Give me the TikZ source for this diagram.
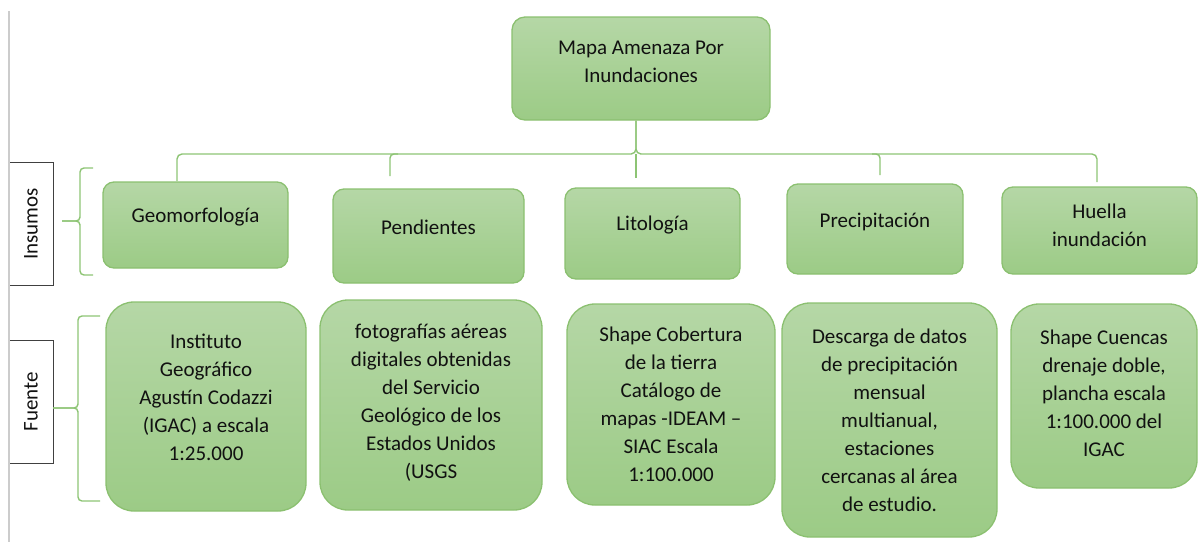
\documentclass[tikz,border=0pt]{standalone}
\usepackage{fontspec}
\setmainfont{Carlito}
\usetikzlibrary{positioning}

\definecolor{gtop}{HTML}{B5D7A6}
\definecolor{gbot}{HTML}{9CCB86}
\definecolor{gline}{HTML}{8BC070}
\definecolor{glink}{HTML}{8DC474}
\definecolor{ink}{HTML}{111111}

\tikzset{
  box/.style={draw=gline, line width=1.3, top color=gtop, bottom color=gbot,
    rounded corners=11, inner sep=0},
  bigbox/.style={box, rounded corners=28},
  txt/.style={font=\fontsize{21}{28}\selectfont, text=ink, align=center},
  link/.style={draw=glink, line width=1.4},
  tag/.style={minimum width=44, minimum height=122, inner sep=0}
}

\begin{document}
\begin{tikzpicture}[x=1pt,y=-1pt]
\useasboundingbox (0,0) rectangle (1200,542);

% side tags
\node[tag] (insumos) at (31,224) {};
\node[tag] (fuente) at (31,402) {};
\draw[line width=1.3, color=black!75] (insumos.north west) -- (insumos.north east) -- (insumos.south east) -- (insumos.south west);
\draw[line width=1.3, color=black!75] (fuente.north west) -- (fuente.north east) -- (fuente.south east) -- (fuente.south west);
\node[txt, rotate=90] at (insumos.center) {Insumos};
\node[txt, rotate=90] at (fuente.center) {Fuente};
\draw[line width=1.5, color=black!20] (9,11) -- (9,542);

% braces
\coordinate (bi) at (80,221);
\coordinate (bf) at (78,408);
\draw[link, rounded corners=4] (93,168) -| (80,214) |- ([xshift=9]insumos.east |- bi);
\draw[link, rounded corners=4] (93,275) -| (80,228) |- ([xshift=9]insumos.east |- bi);
\draw[link, rounded corners=4] (100,316) -| (78,401) |- (fuente.east |- bf);
\draw[link, rounded corners=4] (100,501) -| (78,415) |- (fuente.east |- bf);

% top
\node[box, rounded corners=13, minimum width=258, minimum height=103,
  label={[txt, yshift=7]center:Mapa Amenaza Por\\Inundaciones}] (mapa) at (641,68.5) {};

% insumos
\node[box, minimum width=185, minimum height=86,
  label={[txt, yshift=8]center:Geomorfología}] (geo) at (195.5,225) {};
\node[box, minimum width=191, minimum height=94,
  label={[txt, yshift=9]center:Pendientes}] (pend) at (428.5,236) {};
\node[box, minimum width=175, minimum height=91,
  label={[txt, yshift=8]center:Litología}] (lit) at (652.5,233.5) {};
\node[box, minimum width=176, minimum height=90,
  label={[txt, yshift=7]center:Precipitación}] (prec) at (875,229) {};
\node[box, minimum width=195, minimum height=87,
  label={[txt, yshift=5]center:Huella\\inundación}] (huella) at (1099.5,230.5) {};

% fuentes
\node[bigbox, minimum width=200, minimum height=209,
  label={[txt, yshift=9]center:Instituto\\Geográfico\\Agustín Codazzi\\(IGAC) a escala\\1:25.000}] (inst) at (206,406.5) {};
\node[bigbox, minimum width=222, minimum height=210,
  label={[txt, yshift=2]center:fotografías aéreas\\digitales obtenidas\\del Servicio\\Geológico de los\\Estados Unidos\\(USGS}] (foto) at (431,405) {};
\node[bigbox, minimum width=208, minimum height=201,
  label={[txt]center:Shape Cobertura\\de la tierra\\Catálogo de\\mapas -IDEAM –\\SIAC Escala\\1:100.000}] (cob) at (671,404.5) {};
\node[bigbox, minimum width=215, minimum height=234,
  label={[txt]center:Descarga de datos\\de precipitación\\mensual\\multianual,\\estaciones\\cercanas al área\\de estudio.}] (desc) at (889.5,420) {};
\node[bigbox, minimum width=186, minimum height=184,
  label={[txt, yshift=3]center:Shape Cuencas\\drenaje doble,\\plancha escala\\1:100.000 del\\IGAC}] (cuen) at (1104,396) {};

% top bracket
\coordinate (hub) at (636,154);
\coordinate (d1) at (177,181);
\coordinate (d2) at (390,176);
\coordinate (d3) at (636,178);
\coordinate (d4) at (880,175);
\coordinate (d5) at (1097,182);
\draw[link, rounded corners=5] (d1) |- (627,154) -| (hub |- mapa.south);
\draw[link, rounded corners=5] (d5) |- (645,154) -| (hub |- mapa.south);
\draw[link] (hub) -- (d3);
\draw[link, rounded corners=4] (d2) |- ([xshift=8]d2 |- hub);
\draw[link, rounded corners=4] (d4) |- ([xshift=-8]d4 |- hub);
\end{tikzpicture}
\end{document}
